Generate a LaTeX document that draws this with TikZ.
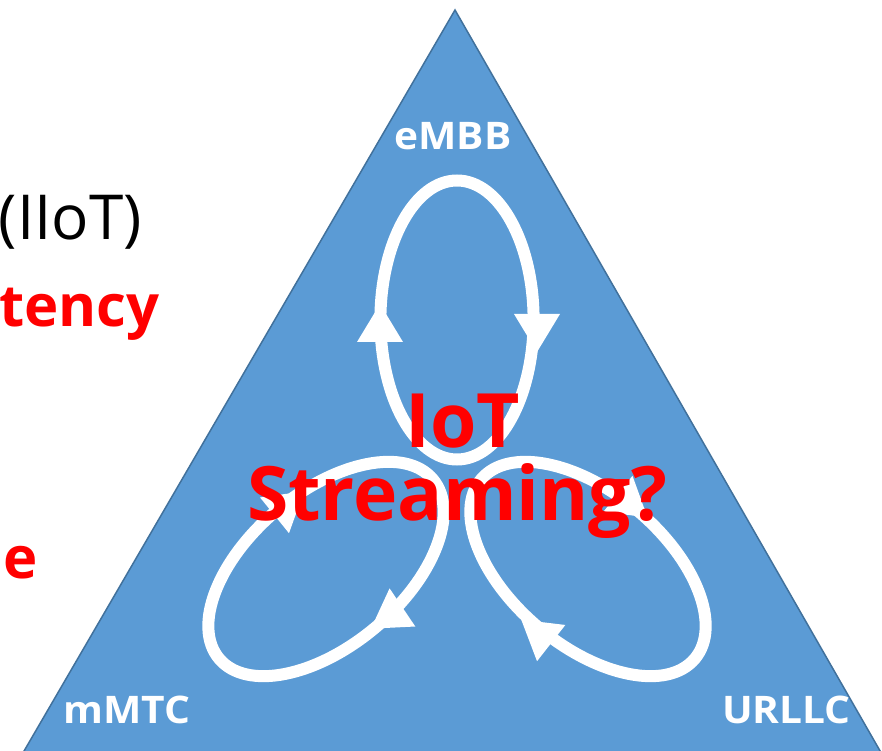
\documentclass[tikz,border=0pt]{standalone}
\usepackage{fontspec}
\setmainfont{Open Sans}
\newfontfamily\labelfont[FakeStretch=1.07]{Open Sans}
\definecolor{triblue}{HTML}{5B9BD5}
\definecolor{triedge}{HTML}{41719C}
\definecolor{hotred}{HTML}{FF0000}
\tikzset{
  ringline/.style={draw=white, line width=12pt},
  cornerlabel/.style={inner sep=0pt, text=white, font=\labelfont\bfseries\fontsize{38}{38}\selectfont},
  bigred/.style={inner sep=0pt, text=hotred, font=\bfseries\fontsize{75}{75}\selectfont},
  sidered/.style={inner sep=0pt, text=hotred, font=\bfseries\fontsize{58}{58}\selectfont},
  sideblack/.style={inner sep=0pt, text=black, font=\fontsize{62}{62}\selectfont},
}
\newcommand{\arrowhd}[3]{\fill[white, shift={(#1,#2)}, rotate=#3] (20,0) -- (-18,23) -- (-18,-23) -- cycle;}
\begin{document}
\begin{tikzpicture}[x=1pt,y=1pt]
\useasboundingbox (0,0) rectangle (882,750);
\clip (0,0) rectangle (882,750);
% triangle
\draw[fill=triblue, draw=triedge, line width=1.5pt, line join=miter]
  (455,740) -- (891,-20) -- (13,-20) -- cycle;
% loops
\draw[ringline] (457,430) ellipse [x radius=76.6pt, y radius=139.5pt];
\draw[ringline, rotate around={40:(326,181)}] (326,181) ellipse [x radius=139.5pt, y radius=76.6pt];
\draw[ringline, rotate around={140:(588,181)}] (588,181) ellipse [x radius=139.5pt, y radius=76.6pt];
% arrowheads
\arrowhd{380}{426}{90}
\arrowhd{537}{418}{-90}
\arrowhd{288.5}{246}{39}
\arrowhd{387.5}{132.5}{214}
\arrowhd{537}{118}{142}
\arrowhd{632}{245}{-39}
% corner labels
\node[cornerlabel, anchor=base] (embb) at (453,600) {eMBB};
\node[cornerlabel, anchor=base west] (mmtc) at (63,27) {mMTC};
\node[cornerlabel, anchor=base east] (urllc) at (851,27) {URLLC};
% centre text
\node[bigred, anchor=base] (iot) at (463,303) {IoT};
\node[bigred, anchor=base] (stream) at (457,230) {Streaming?};
% left clipped text
\node[sideblack, anchor=base east] (iiot) at (142,510) {(IIoT)};
\node[sidered, anchor=base east] (tency) at (160,423) {tency};
\node[sidered, anchor=base east] (ee) at (38,172) {e};
\end{tikzpicture}
\end{document}
